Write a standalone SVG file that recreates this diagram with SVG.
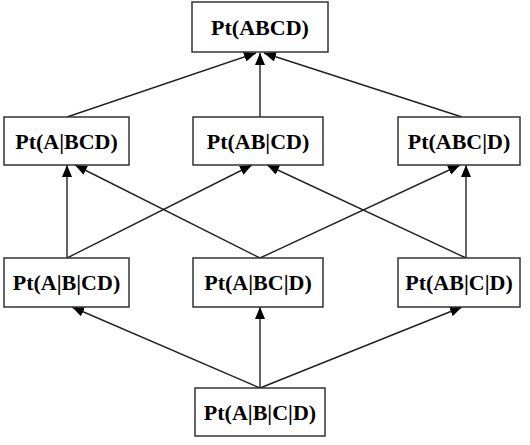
<svg xmlns="http://www.w3.org/2000/svg" width="530" height="445" viewBox="0 0 530 445">
<defs>
<marker id="ah" viewBox="0 0 12 10" refX="12" refY="5" markerWidth="12" markerHeight="10" markerUnits="userSpaceOnUse" orient="auto">
<path d="M0,0 L12,5 L0,10 Z" fill="#000"/>
</marker>
<style>
.box{fill:#fff;stroke:#333;stroke-width:1.5}
.lbl{font-family:"Liberation Serif","Times New Roman",serif;font-weight:bold;font-size:22px;fill:#000;text-anchor:middle}
.e{stroke:#222;stroke-width:1.4;fill:none;marker-end:url(#ah)}
</style>
</defs>
<rect width="530" height="445" fill="#fff"/>
<g id="edges">
<line class="e" x1="67" y1="117" x2="256" y2="53"/>
<line class="e" x1="260" y1="117" x2="260" y2="53"/>
<line class="e" x1="462" y1="117" x2="264" y2="53"/>
<line class="e" x1="67" y1="258" x2="67" y2="165"/>
<line class="e" x1="67" y1="258" x2="252" y2="165"/>
<line class="e" x1="260" y1="258" x2="75" y2="165"/>
<line class="e" x1="260" y1="258" x2="460" y2="165"/>
<line class="e" x1="466" y1="258" x2="267" y2="165"/>
<line class="e" x1="466" y1="258" x2="466" y2="165"/>
<line class="e" x1="260" y1="388" x2="72" y2="307"/>
<line class="e" x1="260" y1="388" x2="260" y2="307"/>
<line class="e" x1="260" y1="388" x2="462" y2="307"/>
</g>
<g id="n_ABCD"><rect class="box" x="192" y="2" width="136" height="50"/><text class="lbl" x="260" y="35">Pt(ABCD)</text></g>
<g id="n_A_BCD"><rect class="box" x="4" y="117" width="125" height="48"/><text class="lbl" x="66.5" y="149">Pt(A|BCD)</text></g>
<g id="n_AB_CD"><rect class="box" x="193" y="117" width="130" height="48"/><text class="lbl" x="258" y="149">Pt(AB|CD)</text></g>
<g id="n_ABC_D"><rect class="box" x="398" y="117" width="122" height="48"/><text class="lbl" x="459" y="149">Pt(ABC|D)</text></g>
<g id="n_A_B_CD"><rect class="box" x="4" y="258" width="125" height="49"/><text class="lbl" x="66.5" y="290">Pt(A|B|CD)</text></g>
<g id="n_A_BC_D"><rect class="box" x="193" y="258" width="130" height="49"/><text class="lbl" x="258" y="290">Pt(A|BC|D)</text></g>
<g id="n_AB_C_D"><rect class="box" x="398" y="258" width="122" height="49"/><text class="lbl" x="459" y="290">Pt(AB|C|D)</text></g>
<g id="n_A_B_C_D"><rect class="box" x="195" y="388" width="130" height="48"/><text class="lbl" x="260" y="420">Pt(A|B|C|D)</text></g>
</svg>
